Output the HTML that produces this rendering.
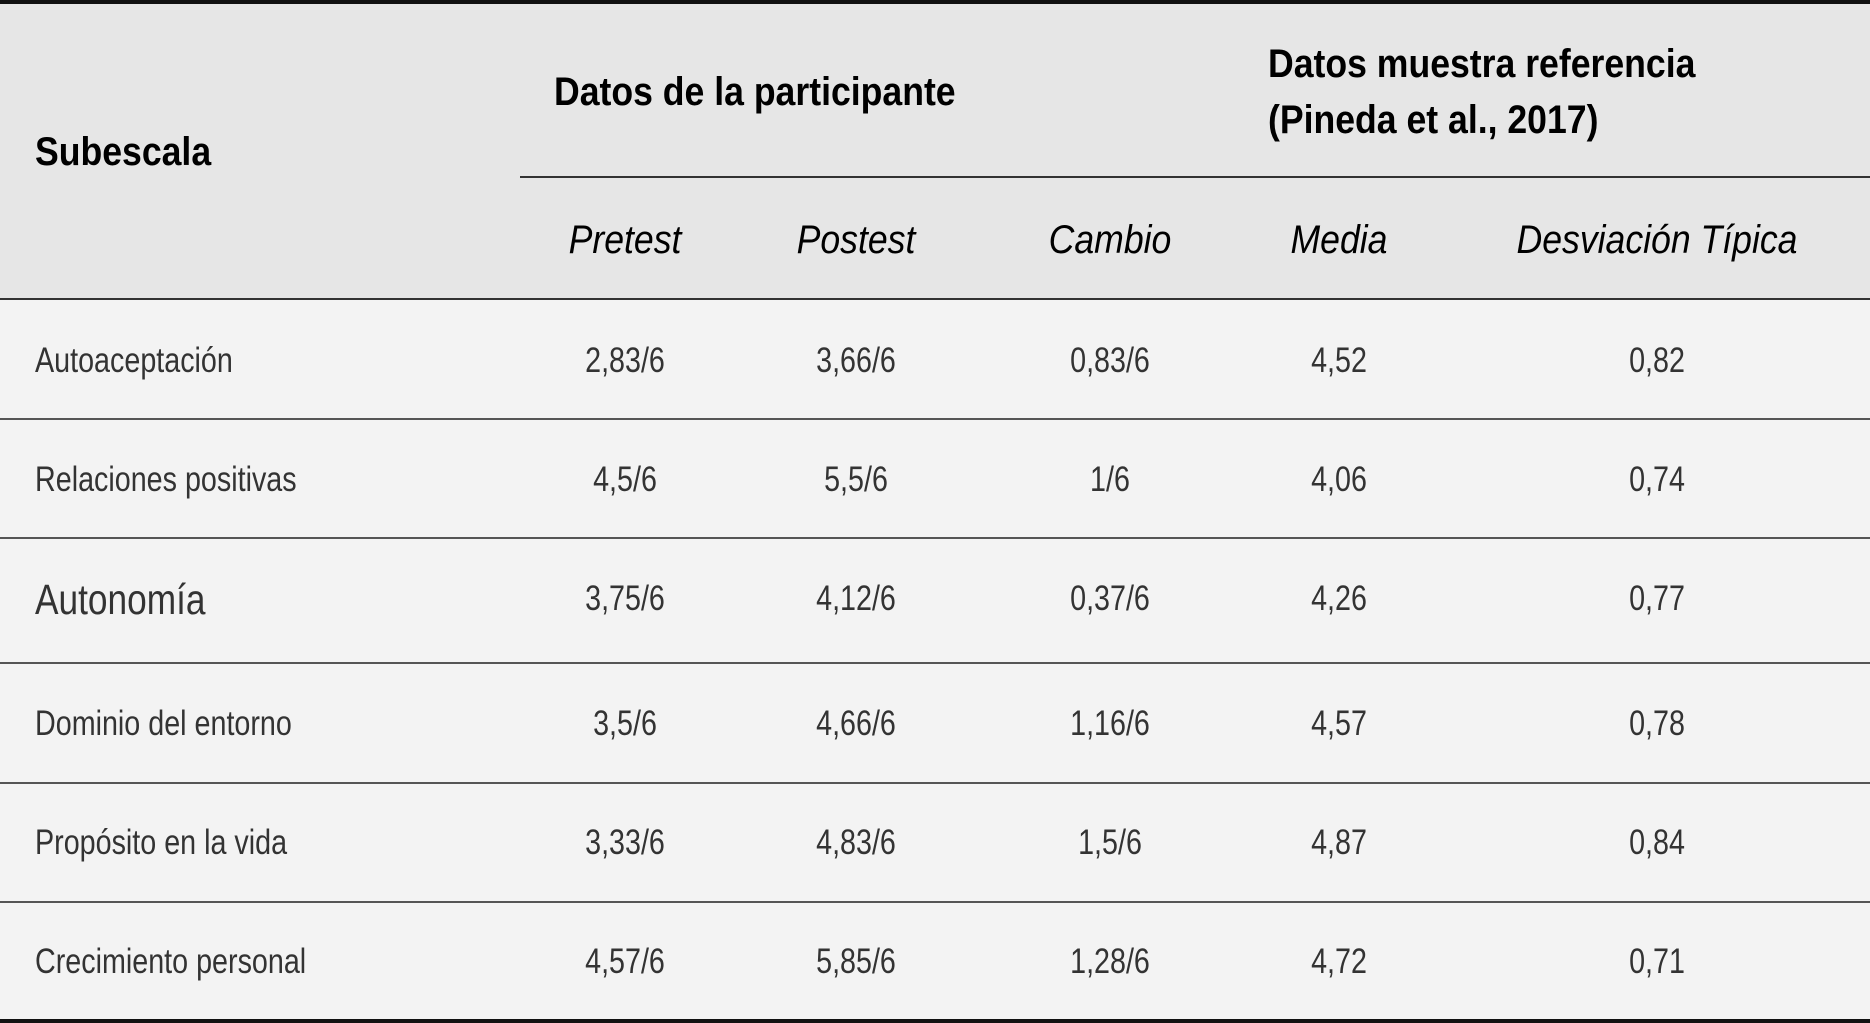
<!DOCTYPE html>
<html><head><meta charset="utf-8"><style>
html,body{margin:0;padding:0;}
body{width:1870px;height:1023px;position:relative;background:#f3f3f3;overflow:hidden;font-family:"Liberation Sans Narrow","Liberation Sans",sans-serif;color:#1a1a1a;}
.hdr{position:absolute;left:0;top:0;width:1870px;height:299px;background:#e6e6e6;}
.line{position:absolute;left:0;width:1870px;height:2px;background:#555;}
.t{position:absolute;white-space:nowrap;line-height:1;}
.b{font-weight:bold;font-size:40px;color:#000;transform:scaleX(0.89);transform-origin:left;}
.i{font-style:italic;font-size:40px;color:#000;transform:translateX(-50%) scaleX(0.89);}
.c{font-size:35px;transform:translateX(-50%) scaleX(0.82);color:#333;}
.l{font-size:35px;left:35px;color:#333;transform:scaleX(0.82);transform-origin:left;}
</style></head><body>
<div class="hdr"></div>
<div class="line" style="top:0;height:4px;background:#111"></div>
<div class="line" style="top:176px;left:520px;width:1350px;background:#333"></div>
<div class="line" style="top:298px;background:#333"></div>
<div class="line" style="top:418px"></div>
<div class="line" style="top:537px"></div>
<div class="line" style="top:662px"></div>
<div class="line" style="top:782px"></div>
<div class="line" style="top:901px"></div>
<div class="line" style="top:1019px;height:4px;background:#111"></div>

<div class="t b" style="left:35px;top:132px">Subescala</div>
<div class="t b" style="left:554px;top:72px">Datos de la participante</div>
<div class="t b" style="left:1268px;top:44px">Datos muestra referencia</div>
<div class="t b" style="left:1268px;top:100px">(Pineda et al., 2017)</div>

<div class="t i" style="left:625px;top:220px">Pretest</div>
<div class="t i" style="left:856px;top:220px">Postest</div>
<div class="t i" style="left:1110px;top:220px">Cambio</div>
<div class="t i" style="left:1339px;top:220px">Media</div>
<div class="t i" style="left:1657px;top:220px">Desviación Típica</div>

<div class="t l" style="top:343px">Autoaceptación</div>
<div class="t c" style="left:625px;top:343px">2,83/6</div>
<div class="t c" style="left:856px;top:343px">3,66/6</div>
<div class="t c" style="left:1110px;top:343px">0,83/6</div>
<div class="t c" style="left:1339px;top:343px">4,52</div>
<div class="t c" style="left:1657px;top:343px">0,82</div>

<div class="t l" style="top:462px">Relaciones positivas</div>
<div class="t c" style="left:625px;top:462px">4,5/6</div>
<div class="t c" style="left:856px;top:462px">5,5/6</div>
<div class="t c" style="left:1110px;top:462px">1/6</div>
<div class="t c" style="left:1339px;top:462px">4,06</div>
<div class="t c" style="left:1657px;top:462px">0,74</div>

<div class="t l" style="top:579px;font-size:43px">Autonomía</div>
<div class="t c" style="left:625px;top:581px">3,75/6</div>
<div class="t c" style="left:856px;top:581px">4,12/6</div>
<div class="t c" style="left:1110px;top:581px">0,37/6</div>
<div class="t c" style="left:1339px;top:581px">4,26</div>
<div class="t c" style="left:1657px;top:581px">0,77</div>

<div class="t l" style="top:706px">Dominio del entorno</div>
<div class="t c" style="left:625px;top:706px">3,5/6</div>
<div class="t c" style="left:856px;top:706px">4,66/6</div>
<div class="t c" style="left:1110px;top:706px">1,16/6</div>
<div class="t c" style="left:1339px;top:706px">4,57</div>
<div class="t c" style="left:1657px;top:706px">0,78</div>

<div class="t l" style="top:825px">Propósito en la vida</div>
<div class="t c" style="left:625px;top:825px">3,33/6</div>
<div class="t c" style="left:856px;top:825px">4,83/6</div>
<div class="t c" style="left:1110px;top:825px">1,5/6</div>
<div class="t c" style="left:1339px;top:825px">4,87</div>
<div class="t c" style="left:1657px;top:825px">0,84</div>

<div class="t l" style="top:944px">Crecimiento personal</div>
<div class="t c" style="left:625px;top:944px">4,57/6</div>
<div class="t c" style="left:856px;top:944px">5,85/6</div>
<div class="t c" style="left:1110px;top:944px">1,28/6</div>
<div class="t c" style="left:1339px;top:944px">4,72</div>
<div class="t c" style="left:1657px;top:944px">0,71</div>
</body></html>
